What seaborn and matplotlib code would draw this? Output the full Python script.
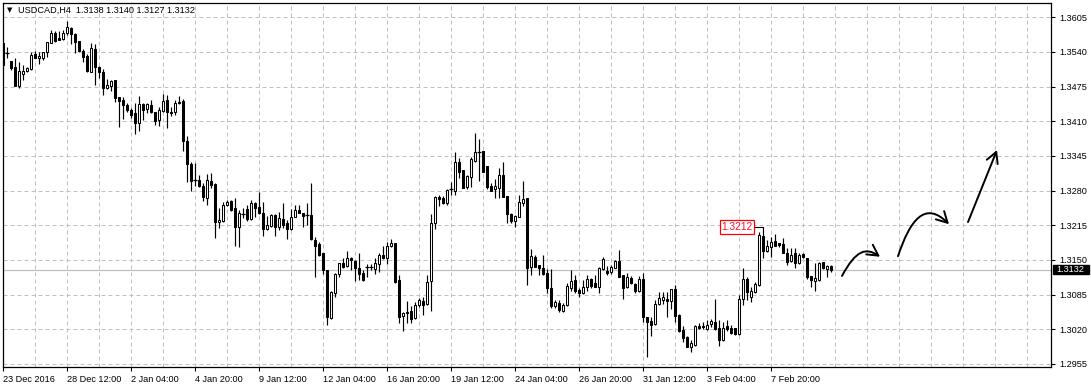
import numpy as np
import pandas as pd
import matplotlib
matplotlib.use("Agg")
import matplotlib.pyplot as plt
import matplotlib.transforms as mtransforms
import seaborn as sns
from matplotlib.path import Path
from matplotlib.patches import FancyArrowPatch, Rectangle

# ---------------- data ----------------
symbol_title = "USDCAD,H4  1.3138 1.3140 1.3127 1.3132"

open_ = [1.3557,1.3538,1.3523,1.3512,1.3476,1.3499,1.3504,1.3508,1.3536,1.3529,
         1.3529,1.3540,1.3557,1.3576,1.3566,1.3564,1.3576,1.3585,1.3574,1.3561,
         1.3542,1.3532,1.3502,1.3546,1.3512,1.3502,1.3472,1.3476,1.3487,1.3456,
         1.3450,1.3441,1.3431,1.3426,1.3407,1.3442,1.3433,1.3441,1.3427,1.3412,
         1.3429,1.3450,1.3427,1.3427,1.3446,1.3448,1.3373,1.3330,1.3300,1.3300,
         1.3289,1.3266,1.3298,1.3292,1.3221,1.3223,1.3253,1.3261,1.3247,1.3212,
         1.3236,1.3246,1.3227,1.3257,1.3249,1.3238,1.3208,1.3214,1.3234,1.3212,
         1.3227,1.3219,1.3208,1.3231,1.3244,1.3238,1.3234,1.3234,1.3187,1.3180,
         1.3163,1.3131,1.3041,1.3088,1.3124,1.3144,1.3139,1.3154,1.3148,1.3135,
         1.3126,1.3137,1.3137,1.3133,1.3142,1.3159,1.3154,1.3176,1.3182,1.3112,
         1.3045,1.3052,1.3054,1.3041,1.3066,1.3073,1.3067,1.3111,1.3219,1.3268,
         1.3266,1.3257,1.3283,1.3279,1.3334,1.3319,1.3287,1.3306,1.3336,1.3352,
         1.3354,1.3326,1.3289,1.3283,1.3285,1.3309,1.3270,1.3236,1.3223,1.3231,
         1.3257,1.3266,1.3137,1.3156,1.3141,1.3135,1.3126,1.3097,1.3064,1.3069,
         1.3054,1.3066,1.3097,1.3112,1.3094,1.3088,1.3099,1.3114,1.3107,1.3099,
         1.3133,1.3129,1.3127,1.3135,1.3148,1.3122,1.3099,1.3116,1.3105,1.3092,
         1.3114,1.3043,1.3036,1.3030,1.3067,1.3075,1.3077,1.3073,1.3096,1.3047,
         1.3019,1.3006,1.2987,1.2991,1.3026,1.3026,1.3021,1.3030,1.3034,1.3022,
         1.3000,1.3026,1.3022,1.3022,1.3011,1.3077,1.3114,1.3081,1.3090,1.3103,
         1.3195,1.3167,1.3174,1.3186,1.3182,1.3180,1.3163,1.3148,1.3163,1.3144,
         1.3161,1.3154,1.3120,1.3111,1.3112,1.3146,1.3133,1.3138]
high_ = [1.3557,1.3549,1.3523,1.3529,1.3521,1.3516,1.3512,1.3540,1.3542,1.3540,
         1.3540,1.3559,1.3581,1.3579,1.3579,1.3581,1.3598,1.3587,1.3576,1.3561,
         1.3546,1.3536,1.3557,1.3555,1.3514,1.3508,1.3489,1.3487,1.3487,1.3456,
         1.3456,1.3444,1.3435,1.3444,1.3457,1.3444,1.3444,1.3450,1.3427,1.3437,
         1.3461,1.3459,1.3437,1.3450,1.3457,1.3452,1.3382,1.3334,1.3332,1.3309,
         1.3294,1.3311,1.3313,1.3294,1.3247,1.3259,1.3262,1.3262,1.3266,1.3244,
         1.3247,1.3253,1.3262,1.3259,1.3277,1.3259,1.3232,1.3236,1.3236,1.3240,
         1.3257,1.3225,1.3246,1.3253,1.3253,1.3238,1.3257,1.3294,1.3193,1.3184,
         1.3163,1.3131,1.3092,1.3126,1.3144,1.3154,1.3167,1.3156,1.3150,1.3163,
         1.3131,1.3142,1.3142,1.3154,1.3163,1.3176,1.3184,1.3189,1.3182,1.3122,
         1.3052,1.3073,1.3064,1.3071,1.3079,1.3081,1.3122,1.3236,1.3270,1.3272,
         1.3270,1.3283,1.3296,1.3352,1.3341,1.3319,1.3309,1.3343,1.3388,1.3377,
         1.3354,1.3326,1.3294,1.3302,1.3322,1.3334,1.3270,1.3238,1.3234,1.3272,
         1.3298,1.3266,1.3171,1.3159,1.3141,1.3159,1.3133,1.3133,1.3075,1.3075,
         1.3069,1.3107,1.3131,1.3122,1.3097,1.3112,1.3122,1.3116,1.3122,1.3137,
         1.3156,1.3139,1.3141,1.3150,1.3169,1.3122,1.3126,1.3120,1.3107,1.3120,
         1.3126,1.3043,1.3043,1.3075,1.3090,1.3090,1.3090,1.3096,1.3103,1.3049,
         1.3026,1.3007,1.3000,1.3028,1.3032,1.3034,1.3037,1.3039,1.3077,1.3037,
         1.3034,1.3037,1.3028,1.3022,1.3084,1.3135,1.3118,1.3099,1.3109,1.3202,
         1.3212,1.3187,1.3193,1.3199,1.3182,1.3191,1.3172,1.3172,1.3172,1.3163,
         1.3163,1.3154,1.3120,1.3144,1.3146,1.3146,1.3141,1.3140]
low_ = [1.3516,1.3529,1.3506,1.3476,1.3472,1.3487,1.3502,1.3506,1.3529,1.3517,
        1.3525,1.3531,1.3557,1.3559,1.3562,1.3562,1.3572,1.3555,1.3538,1.3540,
        1.3521,1.3502,1.3502,1.3478,1.3491,1.3459,1.3471,1.3467,1.3446,1.3399,
        1.3414,1.3427,1.3416,1.3386,1.3392,1.3412,1.3426,1.3426,1.3403,1.3401,
        1.3427,1.3397,1.3420,1.3422,1.3442,1.3354,1.3296,1.3279,1.3289,1.3287,
        1.3261,1.3253,1.3285,1.3191,1.3210,1.3221,1.3251,1.3242,1.3176,1.3174,
        1.3229,1.3223,1.3225,1.3231,1.3236,1.3195,1.3206,1.3212,1.3195,1.3206,
        1.3210,1.3189,1.3206,1.3231,1.3238,1.3212,1.3216,1.3187,1.3118,1.3157,
        1.3124,1.3028,1.3039,1.3081,1.3118,1.3135,1.3137,1.3131,1.3111,1.3112,
        1.3111,1.3118,1.3131,1.3124,1.3127,1.3152,1.3142,1.3174,1.3107,1.3032,
        1.3017,1.3032,1.3032,1.3039,1.3062,1.3047,1.3066,1.3054,1.3208,1.3251,
        1.3255,1.3253,1.3272,1.3272,1.3304,1.3285,1.3283,1.3287,1.3334,1.3298,
        1.3315,1.3283,1.3279,1.3266,1.3266,1.3268,1.3219,1.3219,1.3212,1.3231,
        1.3251,1.3103,1.3122,1.3137,1.3122,1.3122,1.3088,1.3060,1.3060,1.3052,
        1.3052,1.3064,1.3092,1.3088,1.3081,1.3086,1.3092,1.3097,1.3099,1.3088,
        1.3131,1.3122,1.3124,1.3135,1.3118,1.3077,1.3097,1.3105,1.3088,1.3090,
        1.3034,1.2968,1.3007,1.3028,1.3066,1.3067,1.3043,1.3058,1.3034,1.3015,
        1.2996,1.2987,1.2977,1.2989,1.3021,1.3021,1.3019,1.3024,1.3019,1.2989,
        1.2998,1.3017,1.3011,1.3009,1.3009,1.3066,1.3075,1.3071,1.3088,1.3101,
        1.3154,1.3165,1.3156,1.3176,1.3174,1.3163,1.3141,1.3146,1.3135,1.3142,
        1.3154,1.3114,1.3099,1.3092,1.3111,1.3133,1.3118,1.3127]
close_ = [1.3516,1.3538,1.3510,1.3476,1.3504,1.3504,1.3510,1.3534,1.3529,1.3532,
          1.3540,1.3559,1.3576,1.3561,1.3562,1.3576,1.3587,1.3574,1.3559,1.3542,
          1.3531,1.3504,1.3547,1.3512,1.3502,1.3472,1.3478,1.3486,1.3454,1.3448,
          1.3441,1.3431,1.3422,1.3407,1.3442,1.3431,1.3442,1.3427,1.3411,1.3431,
          1.3448,1.3427,1.3426,1.3444,1.3444,1.3373,1.3330,1.3298,1.3300,1.3289,
          1.3268,1.3300,1.3291,1.3221,1.3225,1.3253,1.3259,1.3244,1.3212,1.3238,
          1.3236,1.3227,1.3257,1.3247,1.3238,1.3208,1.3216,1.3234,1.3212,1.3229,
          1.3216,1.3208,1.3231,1.3244,1.3238,1.3232,1.3234,1.3189,1.3176,1.3159,
          1.3131,1.3043,1.3090,1.3124,1.3144,1.3137,1.3154,1.3150,1.3135,1.3124,
          1.3112,1.3137,1.3137,1.3144,1.3159,1.3154,1.3176,1.3182,1.3109,1.3043,
          1.3051,1.3051,1.3039,1.3066,1.3075,1.3066,1.3109,1.3219,1.3268,1.3264,
          1.3257,1.3281,1.3283,1.3334,1.3315,1.3285,1.3307,1.3339,1.3352,1.3352,
          1.3315,1.3287,1.3279,1.3289,1.3309,1.3268,1.3236,1.3223,1.3232,1.3259,
          1.3264,1.3135,1.3157,1.3137,1.3135,1.3124,1.3097,1.3064,1.3071,1.3056,
          1.3066,1.3101,1.3111,1.3092,1.3088,1.3099,1.3114,1.3101,1.3099,1.3135,
          1.3152,1.3126,1.3137,1.3148,1.3118,1.3097,1.3118,1.3107,1.3092,1.3114,
          1.3043,1.3034,1.3028,1.3067,1.3079,1.3081,1.3073,1.3096,1.3045,1.3017,
          1.3004,1.2987,1.2994,1.3026,1.3022,1.3024,1.3028,1.3036,1.3021,1.3000,
          1.3022,1.3021,1.3013,1.3011,1.3077,1.3114,1.3090,1.3092,1.3105,1.3197,
          1.3167,1.3176,1.3184,1.3176,1.3178,1.3163,1.3146,1.3159,1.3144,1.3159,
          1.3156,1.3118,1.3112,1.3116,1.3144,1.3135,1.3139,1.3132]

date_labels = ["23 Dec 2016", "28 Dec 12:00", "2 Jan 04:00", "4 Jan 20:00",
               "9 Jan 12:00", "12 Jan 04:00", "16 Jan 20:00", "19 Jan 12:00",
               "24 Jan 04:00", "26 Jan 20:00", "31 Jan 12:00", "3 Feb 04:00",
               "7 Feb 20:00"]
date_label_bars = [0, 16, 32, 48, 64, 80, 96, 112, 128, 144, 160, 176, 192]
price_ticks = [1.2955, 1.3020, 1.3085, 1.3150, 1.3215, 1.3280, 1.3345,
               1.3410, 1.3475, 1.3540, 1.3605]
last_price = 1.3132
marked_high = 1.3212
marked_high_bar = 190

# hand-drawn forecast arrows (bar index, price)
arrow1 = [(209.75, 1.3120), (213.25, 1.3169), (215.75, 1.3174), (219.25, 1.3156)]
arrow2 = [(223.75, 1.3157), (226.75, 1.3225), (230.5, 1.3262), (236.5, 1.3217)]
arrow3 = [(241.25, 1.3221), (248.5, 1.3356)]

# ---------------- figure ----------------
sns.set_theme(style="white")
plt.rcParams['font.family'] = ['Liberation Sans', 'DejaVu Sans']

df = pd.DataFrame({"open": open_, "high": high_, "low": low_, "close": close_})
df["bar"] = np.arange(len(df))

W, H = 1091, 388
fig = plt.figure(figsize=(W / 100, H / 100), dpi=100)
fig.patch.set_facecolor("white")
L, R, T, B = 2.7, 1051.0, 2.5, 367.0
ax = fig.add_axes([L / W, (H - B) / H, (R - L) / W, (B - T) / H])
ax.set_facecolor("white")

ax.set_xlim(-0.075, 262.0)
ax.set_ylim(1.29493, 1.36327)

grid_kw = dict(color="#c0c0c0", lw=0.72, linestyle=(0, (4, 3)), zorder=0)
for p in price_ticks:
    ax.axhline(p, **grid_kw)
for b in range(8, 262, 8):
    ax.axvline(b, **grid_kw)

ax.axhline(last_price, color="#c0c0c0", lw=0.9, zorder=0.5)

# wicks
sns.lineplot(ax=ax)  # seaborn axes init (no data)
ax.vlines(df["bar"], df["low"], df["high"], color="black", lw=0.85, zorder=2)

bull = df[df["close"] > df["open"]]
bear = df[df["close"] < df["open"]]
doji = df[df["close"] == df["open"]]
ax.bar(bull["bar"], bull["close"] - bull["open"], bottom=bull["open"], width=0.5,
       facecolor="white", edgecolor="black", linewidth=0.75, zorder=3)
ax.bar(bear["bar"], bear["open"] - bear["close"], bottom=bear["close"], width=0.5,
       facecolor="black", edgecolor="black", linewidth=0.75, zorder=3)
ax.hlines(doji["open"], doji["bar"] - 0.4, doji["bar"] + 0.4, color="black",
          lw=0.9, zorder=3)

# axes frame & ticks
for s in ax.spines.values():
    s.set_color("black")
    s.set_linewidth(0.9)
ax.yaxis.tick_right()
ax.set_yticks(price_ticks)
ax.set_yticklabels([f"{p:.4f}" for p in price_ticks])
ax.set_xticks(date_label_bars)
ax.set_xticklabels(date_labels, ha="left")
ax.tick_params(axis="y", which="both", direction="out", length=3, width=0.8,
               pad=3, labelsize=6.6, colors="black", right=True, left=False)
ax.tick_params(axis="x", which="both", direction="out", length=3, width=0.8,
               pad=3, labelsize=6.6, colors="black", bottom=True)
ax.grid(False)

# current price box on the axis
blend = mtransforms.blended_transform_factory(ax.transAxes, ax.transData)
ax.add_patch(Rectangle((1.0016, last_price - 0.00092), 0.0348, 0.00184,
                       transform=blend, facecolor="black", edgecolor="black",
                       clip_on=False, zorder=10))
ax.text(1.0052, last_price, f"{last_price:.4f}", transform=blend, color="white",
        fontsize=6.6, va="center", ha="left", zorder=11, clip_on=False)

# marked high label
ax.plot([187.75, marked_high_bar], [marked_high, marked_high], color="black",
        lw=0.8, zorder=4)
ax.text(187.4, marked_high, f"{marked_high:.4f}", color="#ff1030", fontsize=7.4,
        ha="right", va="center", zorder=5,
        bbox=dict(boxstyle="square,pad=0.18", fc="white", ec="#ff0000", lw=0.9))

# forecast arrows
def bezier_arrow(pts):
    codes = [Path.MOVETO] + [Path.CURVE4] * 3 if len(pts) == 4 else [Path.MOVETO, Path.LINETO]
    pa = FancyArrowPatch(path=Path(pts, codes),
                         arrowstyle="->,head_length=0.55,head_width=0.3",
                         mutation_scale=14, lw=1.4, color="black",
                         transform=ax.transData, zorder=6)
    ax.add_patch(pa)

for a in (arrow1, arrow2, arrow3):
    bezier_arrow(a)

# title
fig.text(7 / W, 1 - 10.5 / H, "\u25bc", fontsize=5, va="center", ha="left",
         color="black", family=["DejaVu Sans"])
fig.text(18 / W, 1 - 10.5 / H, symbol_title, fontsize=6.6, va="center",
         ha="left", color="black")

fig.savefig("out.png", dpi=100, facecolor="white")
